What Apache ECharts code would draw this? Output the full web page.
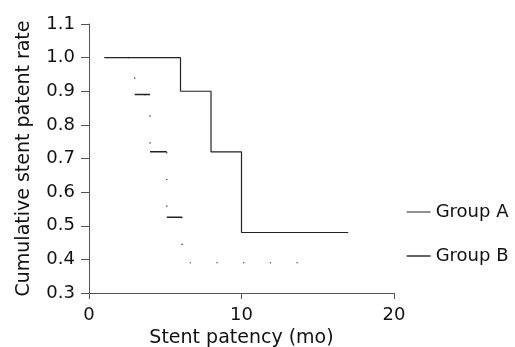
<!DOCTYPE html>
<html>
<head>
<meta charset="utf-8">
<script src="https://cdn.jsdelivr.net/npm/echarts@6/dist/echarts.min.js"></script>
<style>
  html, body { margin: 0; padding: 0; background: #fff; }
  #chart { width: 515px; height: 347px; }
</style>
</head>
<body>
<div id="chart"></div>
<script>
// Group A: time (mo) of each step and rate after it
const groupATimes = [1, 6, 8, 10, 17]
const groupARates = [1.0, 0.9, 0.72, 0.48, 0.48]

// Group B
const groupBTimes = [1, 3, 4, 5.1, 6.1, 14]
const groupBRates = [1.0, 0.89, 0.72, 0.525, 0.39, 0.39]

// axis ticks
const xTicks = [0, 10, 20]
const yTicks = [0.3, 0.4, 0.5, 0.6, 0.7, 0.8, 0.9, 1.0, 1.1]

const font = 'DejaVu Sans'
const pairs = (xs, ys) => xs.map((x, i) => [x, ys[i]])

// short horizontal steps of group B are drawn solid in the original
const bSolid = []
for (let i = 1; i < 4; i++) {
  bSolid.push([groupBTimes[i], groupBRates[i]], [groupBTimes[i + 1], groupBRates[i]], [null, null])
}

const chart = echarts.init(document.getElementById('chart'))

const option = {
  animation: false,
  grid: { left: 89, right: 121, top: 24, bottom: 54, outerBoundsMode: 'none', containLabel: false },
  legend: {
    orient: 'vertical',
    left: 401,
    top: 198,
    itemWidth: 24,
    itemHeight: 14,
    itemGap: 26,
    textStyle: { fontFamily: font, fontSize: 18, color: '#111' },
    data: [
      { name: 'Group A', itemStyle: { opacity: 0 }, lineStyle: { type: 'solid', color: '#555', width: 1.3 } },
      { name: 'Group B', itemStyle: { opacity: 0 }, lineStyle: { type: 'solid', color: '#111', width: 1.3 } }
    ]
  },
  xAxis: {
    type: 'value',
    min: xTicks[0],
    max: xTicks[xTicks.length - 1],
    interval: 10,
    name: 'Stent patency (mo)',
    nameLocation: 'middle',
    nameGap: 33,
    nameTextStyle: { fontFamily: font, fontSize: 19, color: '#111' },
    splitLine: { show: false },
    axisLine: { lineStyle: { color: '#555', width: 1 } },
    axisTick: { length: 6, lineStyle: { color: '#555' } },
    axisLabel: { fontFamily: font, fontSize: 18, color: '#111', margin: 13 }
  },
  yAxis: {
    type: 'value',
    min: yTicks[0],
    max: yTicks[yTicks.length - 1],
    interval: 0.1,
    name: 'Cumulative stent patent rate',
    nameLocation: 'middle',
    nameGap: 55,
    nameTextStyle: { fontFamily: font, fontSize: 19, color: '#111' },
    splitLine: { show: false },
    axisLine: { lineStyle: { color: '#555', width: 1 } },
    axisTick: { length: 8, lineStyle: { color: '#555' } },
    axisLabel: {
      fontFamily: font, fontSize: 18, color: '#111', margin: 14,
      formatter: v => v.toFixed(1)
    }
  },
  series: [
    {
      name: 'Group A',
      type: 'line',
      step: 'end',
      symbol: 'none',
      data: pairs(groupATimes, groupARates),
      itemStyle: { color: '#222' },
      lineStyle: { color: '#222', width: 1.2 },
      z: 3
    },
    {
      name: 'Group B',
      type: 'line',
      step: 'end',
      symbol: 'none',
      data: pairs(groupBTimes, groupBRates),
      itemStyle: { color: '#222' },
      lineStyle: { color: '#222', width: 1.2, type: [1.2, 25.5], dashOffset: 3.1, cap: 'butt' },
      z: 2
    },
    {
      name: 'Group B steps',
      type: 'line',
      symbol: 'none',
      connectNulls: false,
      data: bSolid,
      itemStyle: { color: '#222' },
      lineStyle: { color: '#222', width: 1.5 },
      z: 2
    }
  ]
}

chart.setOption(option)
</script>
</body>
</html>
